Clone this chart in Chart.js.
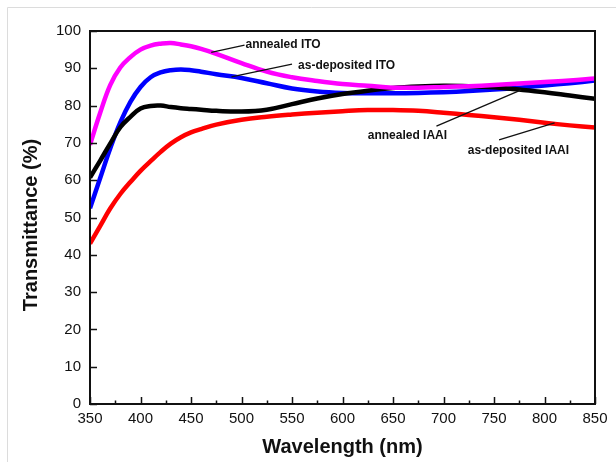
<!DOCTYPE html>
<html>
<head>
<meta charset="utf-8">
<script src="https://cdn.jsdelivr.net/npm/chart.js@4"></script>
<style>
  html, body { margin: 0; padding: 0; background: #fff; }
  canvas { display: block; }
</style>
</head>
<body>
<canvas id="c" width="616" height="462"></canvas>
<script>
// Wavelength grid (nm)
const wavelengths = [350, 360, 370, 380, 390, 400, 410, 420, 430, 440, 450, 460, 475, 500,
  525, 550, 575, 600, 625, 650, 675, 700, 725, 750, 775, 800, 825, 850];

// Transmittance (%) for each film
const annealedITO = [69.5, 78.0, 85.5, 90.2, 93.0, 95.0, 96.1, 96.6, 96.8, 96.4, 95.9, 95.2, 93.9, 91.4,
  89.1, 87.6, 86.6, 85.8, 85.3, 84.8, 84.8, 85.0, 85.2, 85.5, 85.9, 86.3, 86.7, 87.3];
const asDepositedITO = [52.5, 60.5, 68.5, 75.5, 81.0, 85.0, 87.6, 88.9, 89.5, 89.7, 89.5, 89.1, 88.4, 87.4,
  86.0, 84.6, 83.8, 83.4, 83.3, 83.3, 83.4, 83.6, 83.9, 84.3, 84.8, 85.4, 86.0, 86.7];
const annealedIAAI = [60.7, 65.2, 69.8, 74.2, 77.0, 79.2, 79.9, 80.0, 79.6, 79.3, 79.1, 78.9, 78.6, 78.4,
  78.9, 80.4, 81.9, 83.1, 84.0, 84.7, 85.1, 85.3, 85.2, 84.9, 84.3, 83.6, 82.7, 81.8];
const asDepositedIAAI = [43.0, 47.7, 52.4, 56.3, 59.5, 62.5, 65.1, 67.6, 69.8, 71.5, 72.8, 73.7, 74.9, 76.2,
  77.0, 77.6, 78.1, 78.5, 78.8, 78.8, 78.6, 78.1, 77.5, 76.9, 76.2, 75.4, 74.7, 74.1];

// Axis tick values
const xTicks = [350, 400, 450, 500, 550, 600, 650, 700, 750, 800, 850];
const yTicks = [0, 10, 20, 30, 40, 50, 60, 70, 80, 90, 100];

// Curve labels with leader lines, in data units: text anchor, line start, line end
const notes = [
  { text: 'annealed ITO',      at: [504, 96.2], from: [470, 94.3], to: [503, 96.2] },
  { text: 'as-deposited ITO',  at: [556, 90.7], from: [490, 87.7], to: [550, 91.1] },
  { text: 'annealed IAAI',     at: [625, 71.8], from: [693, 74.5], to: [777, 84.2] },
  { text: 'as-deposited IAAI', at: [724, 67.8], from: [755, 70.8], to: [810, 75.4] }
];

const pts = vals => wavelengths.map((w, i) => ({ x: w, y: vals[i] }));

const FONT = "'Liberation Sans', Arial, sans-serif";

const framePlugin = {
  id: 'frame',
  beforeDraw(chart) {
    const ctx = chart.ctx;
    ctx.save();
    ctx.fillStyle = '#fff';
    ctx.fillRect(0, 0, chart.width, chart.height);
    ctx.strokeStyle = '#dcdcdc';
    ctx.lineWidth = 1;
    ctx.beginPath();
    ctx.moveTo(7.5, chart.height);
    ctx.lineTo(7.5, 7.5);
    ctx.lineTo(chart.width, 7.5);
    ctx.stroke();
    ctx.restore();
  },
  afterDraw(chart) {
    const ctx = chart.ctx;
    const a = chart.chartArea;
    const xs = chart.scales.x, ys = chart.scales.y;
    ctx.save();
    ctx.strokeStyle = '#111';
    ctx.lineWidth = 2;
    ctx.strokeRect(a.left, a.top, a.right - a.left, a.bottom - a.top);

    // inward tick marks
    ctx.lineWidth = 1.5;
    ctx.beginPath();
    for (let v = 350; v <= 850; v += 25) {
      const px = Math.round(xs.getPixelForValue(v)) + 0.5;
      const len = (v % 50 === 0) ? 7 : 3.5;
      ctx.moveTo(px, a.bottom);
      ctx.lineTo(px, a.bottom - len);
    }
    for (const v of yTicks) {
      const py = Math.round(ys.getPixelForValue(v)) + 0.5;
      ctx.moveTo(a.left, py);
      ctx.lineTo(a.left + 7, py);
    }
    ctx.stroke();

    // y axis title
    ctx.fillStyle = '#111';
    ctx.font = "bold 20px " + FONT;
    ctx.textAlign = 'center';
    ctx.textBaseline = 'middle';
    ctx.translate(31, 225);
    ctx.rotate(-Math.PI / 2);
    ctx.fillText('Transmittance (%)', 0, 0);
    ctx.restore();

    // curve labels
    ctx.save();
    ctx.strokeStyle = '#111';
    ctx.lineWidth = 1.3;
    ctx.fillStyle = '#111';
    ctx.font = "bold 12px " + FONT;
    ctx.textAlign = 'left';
    ctx.textBaseline = 'middle';
    for (const n of notes) {
      ctx.beginPath();
      ctx.moveTo(xs.getPixelForValue(n.from[0]), ys.getPixelForValue(n.from[1]));
      ctx.lineTo(xs.getPixelForValue(n.to[0]), ys.getPixelForValue(n.to[1]));
      ctx.stroke();
      ctx.fillText(n.text, xs.getPixelForValue(n.at[0]), ys.getPixelForValue(n.at[1]));
    }
    ctx.restore();
  }
};

const line = (label, vals, color, width) => ({
  label, data: pts(vals), borderColor: color, backgroundColor: color,
  borderWidth: width, pointRadius: 0, tension: 0.4, fill: false
});

new Chart(document.getElementById('c'), {
  type: 'line',
  data: {
    datasets: [
      line('annealed ITO', annealedITO, '#ff00ff', 4.5),
      line('annealed IAAI', annealedIAAI, '#000000', 4.5),
      line('as-deposited ITO', asDepositedITO, '#0000ff', 4.5),
      line('as-deposited IAAI', asDepositedIAAI, '#ff0000', 4.5)
    ]
  },
  options: {
    responsive: false,
    animation: false,
    devicePixelRatio: 1,
    layout: { padding: { top: 31, right: 21, left: 0, bottom: 0 } },
    plugins: { legend: { display: false }, tooltip: { enabled: false } },
    scales: {
      x: {
        type: 'linear', min: 350, max: 850,
        afterBuildTicks: s => { s.ticks = xTicks.map(v => ({ value: v })); },
        afterFit: s => { s.height = 58; },
        grid: { display: false, drawTicks: false },
        border: { display: false },
        ticks: { color: '#111', padding: 6, maxRotation: 0, font: { family: FONT, size: 15 } },
        title: {
          display: true, text: 'Wavelength (nm)', color: '#111',
          font: { family: FONT, size: 20, weight: 'bold' }, padding: { top: 0, bottom: 3 }
        }
      },
      y: {
        type: 'linear', min: 0, max: 100,
        afterBuildTicks: s => { s.ticks = yTicks.map(v => ({ value: v })); },
        afterFit: s => { s.width = 90; },
        grid: { display: false, drawTicks: false },
        border: { display: false },
        ticks: { color: '#111', padding: 9, font: { family: FONT, size: 15 } }
      }
    }
  },
  plugins: [framePlugin]
});
</script>
</body>
</html>
